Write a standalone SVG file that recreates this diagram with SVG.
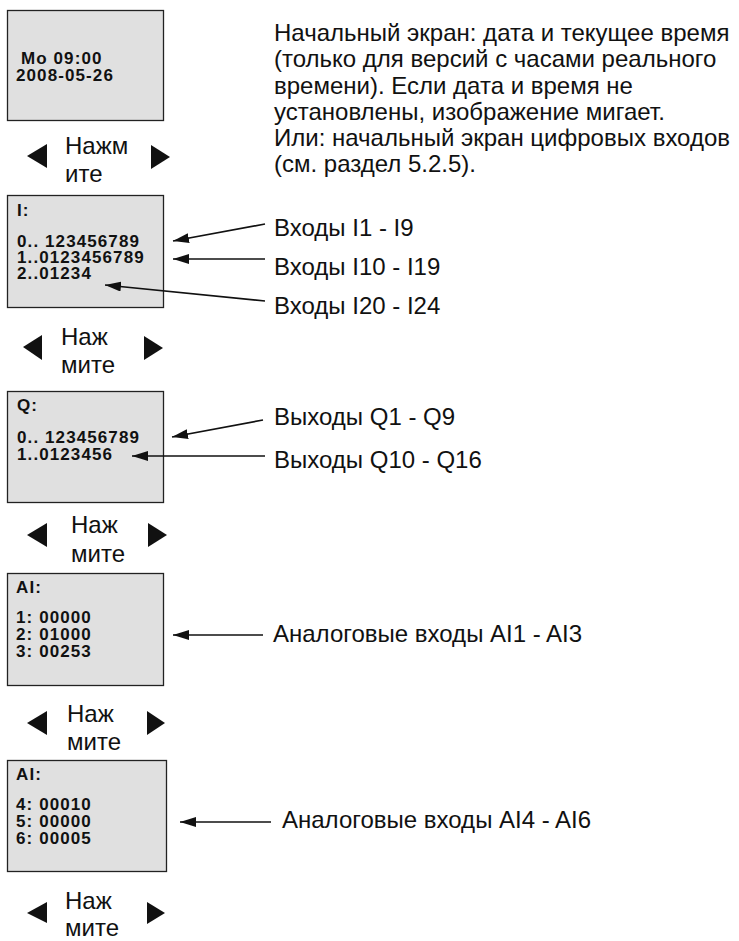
<svg xmlns="http://www.w3.org/2000/svg" width="739" height="941" viewBox="0 0 739 941">
<style>
.box{fill:#e0e0e0;stroke:#222;stroke-width:1.3}
.lcd{font-family:"Liberation Sans",Arial,sans-serif;font-weight:bold;font-size:17px;letter-spacing:1.1px;fill:#111}
.lbl{font-family:"Liberation Sans",Arial,sans-serif;font-size:24px;fill:#111}
.tri{fill:#111}
.con{stroke:#111;stroke-width:1.7;fill:none;marker-end:url(#ah)}
</style>
<defs>
<marker id="ah" markerUnits="userSpaceOnUse" markerWidth="17" markerHeight="11" refX="16" refY="5" orient="auto">
<path d="M0,0 L16,5 L0,10 z" fill="#111"/>
</marker>
</defs>

<g id="screen-clock">
<rect class="box" x="7.5" y="10.5" width="156" height="110"/>
<text class="lcd" x="21" y="64">Mo 09:00</text>
<text class="lcd" x="16" y="81">2008-05-26</text>
</g>
<g id="desc-clock">
<text class="lbl" x="274" y="41">Начальный экран: дата и текущее время</text>
<text class="lbl" x="274" y="67">(только для версий с часами реального</text>
<text class="lbl" x="274" y="94">времени). Если дата и время не</text>
<text class="lbl" x="274" y="120">установлены, изображение мигает.</text>
<text class="lbl" x="274" y="146">Или: начальный экран цифровых входов</text>
<text class="lbl" x="274" y="172">(см. раздел 5.2.5).</text>
</g>
<g id="nav1">
<path class="tri" d="M27,156 L47,144 L47,168 z"/>
<path class="tri" d="M151,145 L170,157 L151,169 z"/>
<text class="lbl" x="65" y="154">Нажм</text>
<text class="lbl" x="65" y="182">ите</text>
</g>

<g id="screen-inputs">
<rect class="box" x="7.5" y="195.5" width="156" height="112"/>
<text class="lcd" x="17" y="216">I:</text>
<text class="lcd" x="17" y="247">0.. 123456789</text>
<text class="lcd" x="17" y="263">1..0123456789</text>
<text class="lcd" x="17" y="279">2..01234</text>
</g>
<g id="lbl-i1"><text class="lbl" x="274" y="236">Входы I1 - I9</text></g>
<g id="lbl-i10"><text class="lbl" x="274" y="275">Входы I10 - I19</text></g>
<g id="lbl-i20"><text class="lbl" x="274" y="314">Входы I20 - I24</text></g>
<g id="nav2">
<path class="tri" d="M23,347 L42,335 L42,360 z"/>
<path class="tri" d="M144,336 L163,348 L144,360 z"/>
<text class="lbl" x="61" y="345">Наж</text>
<text class="lbl" x="61" y="373">мите</text>
</g>

<g id="screen-outputs">
<rect class="box" x="7.5" y="391.5" width="156" height="111"/>
<text class="lcd" x="17" y="411">Q:</text>
<text class="lcd" x="17" y="443">0.. 123456789</text>
<text class="lcd" x="17" y="460">1..0123456</text>
</g>
<g id="lbl-q1"><text class="lbl" x="274" y="425">Выходы Q1 - Q9</text></g>
<g id="lbl-q10"><text class="lbl" x="274" y="468">Выходы Q10 - Q16</text></g>
<g id="nav3">
<path class="tri" d="M27,535 L47,523 L47,547 z"/>
<path class="tri" d="M148,523 L167,535 L148,547 z"/>
<text class="lbl" x="71" y="533">Наж</text>
<text class="lbl" x="71" y="562">мите</text>
</g>

<g id="screen-ai1">
<rect class="box" x="7.5" y="573.5" width="156" height="112"/>
<text class="lcd" x="16" y="593">AI:</text>
<text class="lcd" x="16" y="623">1: 00000</text>
<text class="lcd" x="16" y="640">2: 01000</text>
<text class="lcd" x="16" y="657">3: 00253</text>
</g>
<g id="lbl-ai1"><text class="lbl" x="273" y="642">Аналоговые входы AI1 - AI3</text></g>
<g id="nav4">
<path class="tri" d="M27,723 L47,711 L47,735 z"/>
<path class="tri" d="M147,711 L165,723 L147,735 z"/>
<text class="lbl" x="67" y="722">Наж</text>
<text class="lbl" x="67" y="750">мите</text>
</g>

<g id="screen-ai2">
<rect class="box" x="7.5" y="760.5" width="159" height="111"/>
<text class="lcd" x="16" y="780">AI:</text>
<text class="lcd" x="16" y="810">4: 00010</text>
<text class="lcd" x="16" y="827">5: 00000</text>
<text class="lcd" x="16" y="844">6: 00005</text>
</g>
<g id="lbl-ai2"><text class="lbl" x="282" y="828">Аналоговые входы AI4 - AI6</text></g>
<g id="nav5">
<path class="tri" d="M27,913 L47,902 L47,923 z"/>
<path class="tri" d="M147,902 L165,913 L147,924 z"/>
<text class="lbl" x="65" y="909">Наж</text>
<text class="lbl" x="65" y="936">мите</text>
</g>

<g id="connectors">
<line class="con" x1="265" y1="224" x2="173" y2="241"/>
<line class="con" x1="265" y1="259" x2="173" y2="259"/>
<line class="con" x1="265" y1="301" x2="105" y2="285"/>
<line class="con" x1="263" y1="420" x2="172" y2="437"/>
<line class="con" x1="265" y1="456" x2="132" y2="456"/>
<line class="con" x1="263" y1="635" x2="173" y2="635"/>
<line class="con" x1="271" y1="822" x2="180" y2="822"/>
</g>
</svg>
